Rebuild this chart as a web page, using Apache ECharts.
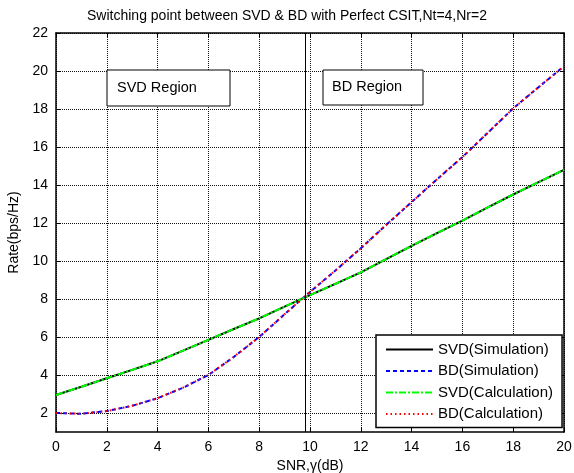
<!DOCTYPE html>
<html style="height: 100%">
<head>
<meta charset="utf-8">
</head>
<body style="height: 100%; margin: 0; background: #fff">
<div id="container" style="width: 574px; height: 473px"></div>
<script src="https://cdn.jsdelivr.net/npm/echarts@6/dist/echarts.min.js"></script>
<script type="text/javascript">
var snr = [0,1,2,3,4,5,6,7,8,9,10,11,12,13,14,15,16,17,18,19,20];
var svdSim  = [2.95,3.38,3.83,4.27,4.72,5.28,5.85,6.42,6.98,7.6,8.2,8.8,9.4,10.1,10.8,11.47,12.13,12.82,13.5,14.15,14.8];
var bdSim   = [2.0,1.96,2.1,2.38,2.78,3.33,4.0,4.95,6.0,7.2,8.37,9.5,10.67,11.9,13.1,14.3,15.47,16.75,18.03,19.15,20.25];
var svdCalc = [2.95,3.38,3.83,4.27,4.72,5.28,5.85,6.42,6.98,7.6,8.2,8.8,9.4,10.1,10.8,11.47,12.13,12.82,13.5,14.15,14.8];
var bdCalc  = [2.0,1.96,2.1,2.38,2.78,3.33,4.0,4.95,6.0,7.2,8.37,9.5,10.67,11.9,13.1,14.3,15.47,16.75,18.03,19.15,20.25];
var yTicks = [2,4,6,8,10,12,14,16,18,20,22];
var switchPoint = 9.8;
var seriesNames = ['SVD(Simulation)','BD(Simulation)','SVD(Calculation)','BD(Calculation)'];

function pairs(xs, ys) {
    var res = [];
    for (var i = 0; i < xs.length; i++) res.push([xs[i], ys[i]]);
    return res;
}

var chart = echarts.init(document.getElementById('container'));
var font = 'Liberation Sans, Arial, sans-serif';
var gridLine = { show: true, lineStyle: { color: '#111', width: 1, type: [1, 1] } };

var option = {
    animation: false,
    backgroundColor: '#fff',
    textStyle: { fontFamily: font },
    title: {
        text: 'Switching point between SVD & BD with Perfect CSIT,Nt=4,Nr=2',
        left: 'center', top: 4,
        textStyle: { fontSize: 14, fontWeight: 'normal', color: '#000', fontFamily: font }
    },
    grid: { left: 56, right: 10, top: 33, bottom: 41, outerBoundsMode: 'none', containLabel: false },
    xAxis: [{
        type: 'value', min: 0, max: 20, interval: 2,
        name: 'SNR,\u03b3(dB)', nameLocation: 'middle', nameGap: 26,
        nameTextStyle: { fontSize: 14, color: '#000' },
        axisLine: { show: true, lineStyle: { color: '#000', width: 1.5 } },
        axisTick: { inside: true, length: 4, lineStyle: { color: '#000' } },
        axisLabel: { fontSize: 14, color: '#000', margin: 8 },
        splitLine: gridLine
    }, {
        type: 'value', min: 0, max: 20, interval: 2, position: 'top',
        axisLine: { show: true, onZero: false, lineStyle: { color: '#000', width: 1.5 } },
        axisTick: { inside: true, length: 4, lineStyle: { color: '#000' } },
        axisLabel: { show: false }, splitLine: { show: false }
    }],
    yAxis: [{
        type: 'value', min: 1, max: 22,
        name: 'Rate(bps/Hz)', nameLocation: 'middle', nameGap: 28,
        nameTextStyle: { fontSize: 14, color: '#000' },
        axisLine: { show: true, lineStyle: { color: '#000', width: 1.5 } },
        axisTick: { inside: true, length: 4, customValues: yTicks, lineStyle: { color: '#000' } },
        axisLabel: { fontSize: 14, color: '#000', margin: 8, customValues: yTicks },
        splitLine: gridLine
    }, {
        type: 'value', min: 1, max: 22, position: 'right',
        axisLine: { show: true, onZero: false, lineStyle: { color: '#000', width: 1.5 } },
        axisTick: { inside: true, length: 4, customValues: yTicks, lineStyle: { color: '#000' } },
        axisLabel: { show: false }, splitLine: { show: false }
    }],
    legend: {
        orient: 'vertical', left: 376, top: 335,
        data: seriesNames,
        backgroundColor: '#fff', borderColor: '#000', borderWidth: 1.5,
        padding: [7, 9, 6, 9], itemWidth: 47, itemHeight: 14, itemGap: 6.5,
        itemStyle: { opacity: 0 },
        textStyle: { fontSize: 15, color: '#000', fontFamily: font }
    },
    graphic: [
        { type: 'rect', shape: { x: 107, y: 70, width: 123, height: 36 },
          style: { fill: '#fff', stroke: '#000', lineWidth: 1 }, z: 100 },
        { type: 'text', x: 117, y: 88, z: 101,
          style: { text: 'SVD Region', font: '14.5px ' + font, fill: '#000', verticalAlign: 'middle' } },
        { type: 'rect', shape: { x: 323, y: 70, width: 100, height: 35 },
          style: { fill: '#fff', stroke: '#000', lineWidth: 1 }, z: 100 },
        { type: 'text', x: 332, y: 87, z: 101,
          style: { text: 'BD Region', font: '14.5px ' + font, fill: '#000', verticalAlign: 'middle' } }
    ],
    series: [{
        name: seriesNames[0], type: 'line', symbol: 'none', data: pairs(snr, svdSim),
        lineStyle: { color: '#000', width: 2, type: 'solid' }, itemStyle: { color: '#000' },
        markLine: {
            silent: true, symbol: 'none', label: { show: false },
            lineStyle: { color: '#000', width: 1, type: 'solid' },
            data: [{ xAxis: switchPoint }]
        }
    }, {
        name: seriesNames[1], type: 'line', symbol: 'none', data: pairs(snr, bdSim),
        lineStyle: { color: '#0000ff', width: 2, type: [4, 3] }, itemStyle: { color: '#0000ff' }
    }, {
        name: seriesNames[2], type: 'line', symbol: 'none', data: pairs(snr, svdCalc),
        lineStyle: { color: '#00ff00', width: 2, type: [7, 2, 2, 2] }, itemStyle: { color: '#00ff00' }
    }, {
        name: seriesNames[3], type: 'line', symbol: 'none', data: pairs(snr, bdCalc),
        lineStyle: { color: '#ff0000', width: 2, type: [1.5, 3] }, itemStyle: { color: '#ff0000' }
    }]
};
chart.setOption(option);
</script>
</body>
</html>
